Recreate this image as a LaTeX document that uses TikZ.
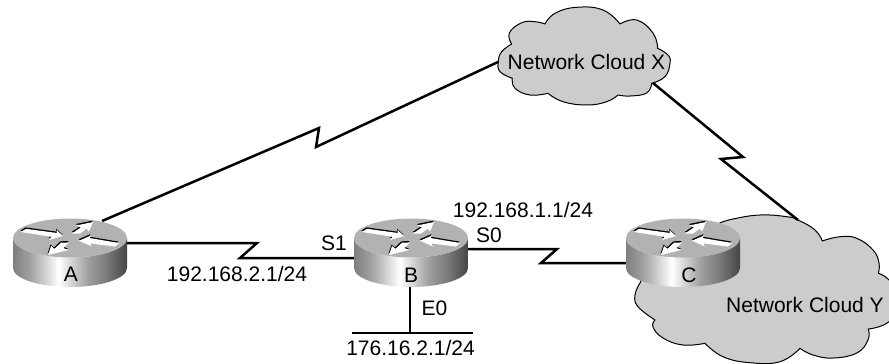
\documentclass[tikz,border=0pt]{standalone}
\usepackage{fontspec}
\setmainfont{Liberation Sans}
\usetikzlibrary{calc}
\pgfdeclarehorizontalshading{routerside}{100bp}{
  rgb(0bp)=(0.50,0.50,0.50);
  rgb(25bp)=(0.50,0.50,0.50);
  rgb(32bp)=(0.62,0.62,0.62);
  rgb(40bp)=(0.85,0.85,0.85);
  rgb(45bp)=(1,1,1);
  rgb(50bp)=(0.85,0.85,0.85);
  rgb(58bp)=(0.62,0.62,0.62);
  rgb(66bp)=(0.48,0.48,0.48);
  rgb(75bp)=(0.27,0.27,0.27);
  rgb(100bp)=(0.27,0.27,0.27)}
\tikzset{
  routernode/.style={minimum width=114pt,minimum height=69pt,inner sep=0pt,outer sep=0pt},
  lbl/.style={font=\fontsize{21}{21}\selectfont,inner sep=0pt,outer sep=0pt,text=black},
  link/.style={line width=2.5pt,line join=miter,black},
  cloudshape/.style={fill=black!20,draw=black,line width=1pt,line join=round},
  lobe/.style={smooth,tension=0.75},
  arrowwhite/.style={fill=white,draw=none},
  arrowblack/.style={fill=black,draw=none}
}
\newcommand{\routerarrows}[1]{%
  \fill[#1] (-49,-6)--(-44,-9.2)--(-13,-5)--(-13.5,-8)--(-7,-2)--(-21,2)--(-18.5,-1.2)--cycle;
  \fill[#1] (2,-4.5)--(11,-10.7)--(6,-12.5)--(23,-16)--(19,-6.5)--(16.5,-9.5)--(10,-4.3)--cycle;
  \fill[#1] (9,2.7)--(21,-2.5)--(19.5,0)--(49,5)--(45,8.5)--(20.5,5.5)--(22,8.5)--cycle;
  \fill[#1] (-1,4.5)--(-6.7,10)--(-1.5,12)--(-22,17)--(-19,8)--(-15.5,10.8)--(-9,4.7)--cycle;}
\newcommand{\routerbody}[1]{%
  \begin{scope}[shift={($(#1)+(0,-14.5)$)}]
    \shade[shading=routerside] (-57,0) -- (-57,30)
      arc[start angle=180,end angle=360,x radius=57pt,y radius=19pt]
      -- (57,0) arc[start angle=0,end angle=-180,x radius=57pt,y radius=19.5pt] -- cycle;
    \fill[black!30] (0,0) ellipse[x radius=57pt,y radius=19.5pt];
    \begin{scope}[shift={(-0.5,-1.4)}]
      \routerarrows{arrowblack}
    \end{scope}
    \routerarrows{arrowwhite}
  \end{scope}}
\begin{document}
\begin{tikzpicture}[x=1pt,y=-1pt]
  \useasboundingbox (0,0) rectangle (889,364);
  \node[routernode] (A) at (70,252.5) {};
  \node[routernode] (B) at (411,252.5) {};
  \node[routernode] (C) at (683,252.5) {};
  \coordinate (Bus) at (410,333);
  \coordinate (BusL) at (352,333);
  \coordinate (BusR) at (473,333);
  % cloud Y
  \begin{scope}
    \clip (0,0) rectangle (889,364);
    \path[cloudshape] (720,223)
      -- plot[lobe] coordinates {(720,223) (733,219) (760,215) (786.7,216.7) (798,220) (815,230) (822.3,241)}
      -- plot[lobe] coordinates {(822.3,241) (840,236.7) (856.7,238.3) (873,250) (879,263) (878.3,273.3)}
      -- plot[lobe] coordinates {(878.3,273.3) (889,280) (903,300) (889,321.7) (868.3,329)}
      -- plot[lobe] coordinates {(868.3,329) (868,340) (856.7,353) (833,358) (813,355) (800,348.3)}
      -- plot[lobe] coordinates {(800,348.3) (780,361.7) (750,362.7) (723,356.7) (705,343.3)}
      -- plot[lobe] coordinates {(705,343.3) (683,345) (663,338) (653,327) (655,320)}
      -- plot[lobe] coordinates {(655,320) (638,306.7) (635,295) (640,283)}
      -- (660,240) -- cycle;
  \end{scope}
  % cloud X
  \path[cloudshape] (511.7,44)
    -- plot[lobe] coordinates {(511.7,44) (509.3,33) (521.7,22.7) (535,21.7) (545,24)}
    -- plot[lobe] coordinates {(545,24) (555,13.3) (576.7,7.3) (603,10) (620,24)}
    -- plot[lobe] coordinates {(620,24) (636.7,20) (653,33) (657.7,48.3)}
    -- plot[lobe] coordinates {(657.7,48.3) (668,55) (670,63) (665,76.7) (651.7,83.3)}
    -- plot[lobe] coordinates {(651.7,83.3) (646.7,93) (630,96) (618,95)}
    -- plot[lobe] coordinates {(618,95) (606.7,101.7) (586.7,105) (563,101.7) (548,93.3)}
    -- plot[lobe] coordinates {(548,93.3) (530,95) (515,88.3) (512.3,78.3)}
    -- plot[lobe] coordinates {(512.3,78.3) (500,71.7) (498.3,61.7) (501.7,51.7) (511.7,44)}
    -- cycle;
  \node[lbl] (cloudX) at (586.5,62) {Network Cloud X};
  \node[lbl] (cloudY) at (805,305) {Network Cloud Y};
  % connectors
  \draw[link] ($(A)+(32,-31.5)$) -- (319,128) -- (316,147) -- ($(cloudX)+(-88.5,0)$);
  \draw[link] ($(cloudX)+(66.5,21)$) -- (743,157) -- (721,159) -- ($(cloudY)+(-7,-85)$);
  \draw[link] ($(A)+(57,-9.5)$) -- (257,243) -- (240,258) -- ($(B)+(-57,5.5)$);
  \draw[link] ($(B)+(57,-3.5)$) -- (557,249) -- (541,263) -- ($(C)+(-57,10.5)$);
  \draw[link] (B.south) ++(-1,-1) -- (Bus);
  \draw[link] (BusL) -- (BusR);
  % routers
  \routerbody{A}
  \routerbody{B}
  \routerbody{C}
  % labels
  \node[lbl] (la) at (71,274.5) {A};
  \node[lbl] (lb) at (411,275) {B};
  \node[lbl] (lc) at (689,275) {C};
  \node[lbl] (addrAB) at (237,274) {192.168.2.1/24};
  \node[lbl] (s1) at (334,243) {S1};
  \node[lbl] (addrBC) at (523,210) {192.168.1.1/24};
  \node[lbl] (s0) at (489,235) {S0};
  \node[lbl] (e0) at (434.5,308) {E0};
  \node[lbl] (addrE) at (410.5,348) {176.16.2.1/24};
\end{tikzpicture}
\end{document}
